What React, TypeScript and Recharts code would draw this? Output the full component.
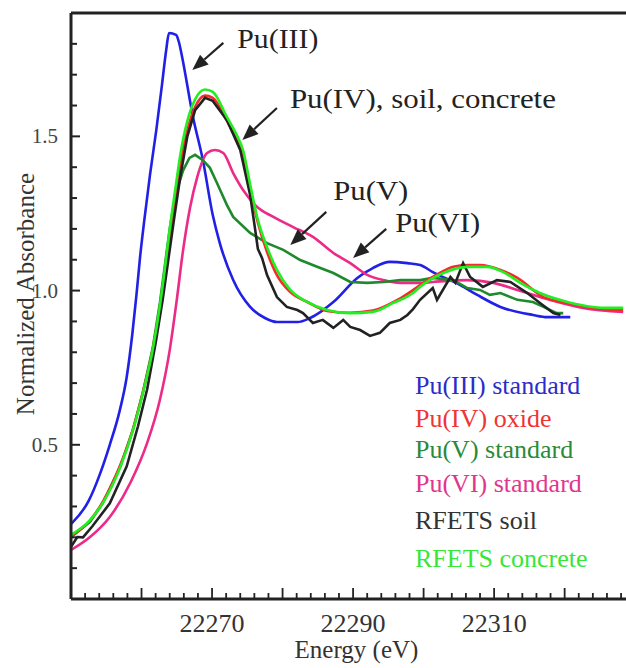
import { LineChart, Line, XAxis, YAxis, ReferenceLine, Legend } from "recharts";

// Pu L3-edge XANES spectra: [energy eV, normalized absorbance]
const PU3: [number, number][] = [
  [22250.0, 0.243], [22252.5, 0.318], [22254.1, 0.405], [22255.5, 0.5], [22256.9, 0.61],
  [22257.9, 0.72], [22258.7, 0.86], [22259.3, 0.99], [22259.8, 1.11], [22260.4, 1.229],
  [22261.2, 1.375], [22262.1, 1.521], [22262.9, 1.667], [22263.5, 1.78], [22263.9, 1.835],
  [22264.9, 1.829], [22265.3, 1.806], [22265.7, 1.764], [22267.3, 1.563], [22268.7, 1.423],
  [22270.1, 1.245], [22271.1, 1.154], [22273.0, 1.034], [22275.4, 0.947], [22277.5, 0.911],
  [22279.2, 0.898], [22282.1, 0.898], [22283.9, 0.911], [22287.2, 0.963], [22290.6, 1.041],
  [22292.8, 1.073], [22295.2, 1.093], [22297.7, 1.089], [22299.5, 1.083], [22301.3, 1.06],
  [22305.2, 1.018], [22307.6, 0.986], [22310.9, 0.947], [22315.5, 0.921], [22317.5, 0.914],
  [22320.8, 0.914],
];

const PU4: [number, number][] = [
  [22250.0, 0.205], [22252.7, 0.255], [22254.5, 0.315], [22257.0, 0.435], [22258.8, 0.552],
  [22260.2, 0.672], [22261.6, 0.81], [22262.6, 0.945], [22263.3, 1.06], [22264.0, 1.185],
  [22264.8, 1.31], [22265.5, 1.41], [22266.5, 1.52], [22267.6, 1.595], [22269.0, 1.632],
  [22270.1, 1.625], [22272.1, 1.55], [22273.7, 1.48], [22274.4, 1.44], [22275.4, 1.33],
  [22276.5, 1.22], [22277.8, 1.125], [22279.2, 1.05], [22281.1, 0.995], [22283.5, 0.963],
  [22286.3, 0.934], [22289.6, 0.928], [22292.8, 0.935], [22296.7, 0.975], [22301.3, 1.044],
  [22304.2, 1.077], [22306.2, 1.083], [22308.0, 1.083], [22310.9, 1.067], [22313.3, 1.041],
  [22317.0, 0.979], [22320.4, 0.96], [22324.0, 0.944], [22328.3, 0.937],
];

const PU5: [number, number][] = [
  [22250.0, 0.2], [22252.7, 0.25], [22254.5, 0.31], [22257.0, 0.43], [22258.8, 0.55],
  [22260.2, 0.67], [22261.6, 0.815], [22262.6, 0.96], [22263.3, 1.08], [22264.0, 1.2],
  [22264.8, 1.31], [22265.9, 1.39], [22266.8, 1.43], [22267.6, 1.44], [22268.7, 1.423],
  [22269.7, 1.398], [22270.7, 1.349], [22272.1, 1.278], [22273.0, 1.239], [22275.4, 1.187],
  [22277.8, 1.154], [22280.1, 1.132], [22282.5, 1.099], [22284.9, 1.077], [22287.2, 1.057],
  [22289.6, 1.028], [22292.0, 1.025], [22294.3, 1.028], [22296.7, 1.034], [22299.5, 1.034],
  [22301.3, 1.041], [22304.2, 1.034], [22306.2, 1.008], [22308.0, 1.002], [22309.4, 0.986],
  [22310.9, 0.992], [22313.3, 0.97], [22315.5, 0.963], [22317.0, 0.947], [22318.9, 0.927],
  [22319.8, 0.927],
];

const PU6: [number, number][] = [
  [22250.0, 0.159], [22252.7, 0.201], [22255.5, 0.266], [22258.4, 0.376], [22260.8, 0.506],
  [22262.6, 0.645], [22264.0, 0.807], [22265.0, 0.97], [22265.9, 1.132], [22266.9, 1.271],
  [22267.9, 1.368], [22269.3, 1.446], [22270.4, 1.456], [22271.6, 1.446], [22273.0, 1.381],
  [22274.4, 1.326], [22276.4, 1.271], [22278.7, 1.239], [22281.5, 1.206], [22284.3, 1.174],
  [22287.2, 1.122], [22289.6, 1.089], [22292.0, 1.051], [22294.3, 1.034], [22296.7, 1.025],
  [22299.5, 1.025], [22301.3, 1.028], [22306.2, 1.034], [22309.9, 1.025], [22313.3, 1.002],
  [22317.9, 0.97], [22322.6, 0.944], [22328.3, 0.931],
];

const SOIL: [number, number][] = [
  [22250.0, 0.169], [22250.9, 0.201], [22251.7, 0.2], [22253.0, 0.235], [22255.5, 0.31],
  [22257.9, 0.43], [22259.5, 0.56], [22260.8, 0.68], [22262.0, 0.83], [22263.0, 0.97],
  [22263.8, 1.1], [22264.6, 1.23], [22265.5, 1.37], [22266.5, 1.5], [22267.6, 1.585],
  [22269.0, 1.625], [22270.1, 1.615], [22272.1, 1.553], [22274.0, 1.456], [22275.4, 1.31],
  [22276.1, 1.2], [22276.5, 1.135], [22277.1, 1.105], [22277.8, 1.05], [22279.2, 0.979],
  [22280.6, 0.947], [22282.1, 0.937], [22282.9, 0.927], [22284.3, 0.895], [22285.7, 0.905],
  [22287.2, 0.879], [22288.6, 0.905], [22289.6, 0.882], [22291.0, 0.872], [22292.4, 0.853],
  [22293.8, 0.863], [22295.2, 0.895], [22296.7, 0.905], [22297.7, 0.921], [22298.5, 0.94],
  [22299.5, 0.97], [22301.3, 1.008], [22301.9, 0.97], [22303.8, 1.044], [22304.5, 1.025],
  [22305.6, 1.089], [22306.6, 1.044], [22308.4, 1.012], [22310.4, 1.034], [22312.3, 1.028],
  [22314.7, 0.992], [22316.5, 0.96], [22318.4, 0.927], [22319.4, 0.921],
];

const CONCRETE: [number, number][] = [
  [22250.0, 0.208], [22252.7, 0.256], [22254.5, 0.311], [22257.0, 0.428], [22258.8, 0.548],
  [22260.2, 0.668], [22261.6, 0.81], [22262.6, 0.95], [22263.3, 1.07], [22264.0, 1.2],
  [22264.8, 1.33], [22265.5, 1.44], [22266.5, 1.55], [22267.6, 1.62], [22269.0, 1.652],
  [22270.1, 1.644], [22272.1, 1.563], [22273.7, 1.495], [22274.4, 1.455], [22275.4, 1.345],
  [22276.5, 1.229], [22277.8, 1.141], [22279.2, 1.067], [22281.1, 1.002], [22283.5, 0.963],
  [22286.3, 0.937], [22289.6, 0.927], [22292.8, 0.931], [22295.7, 0.96], [22298.5, 0.992],
  [22299.5, 1.012], [22302.8, 1.057], [22306.2, 1.077], [22309.0, 1.077], [22311.3, 1.06],
  [22313.7, 1.025], [22316.5, 0.992], [22320.4, 0.963], [22324.0, 0.947], [22326.0, 0.944],
  [22328.3, 0.944],
];

const X_DOMAIN: [number, number] = [22250, 22328.7];
const Y_DOMAIN: [number, number] = [0, 1.9];
const X_LABELS = [22270, 22290, 22310];
const Y_LABELS = [0.5, 1.0, 1.5];
const X_TICKS = Array.from({ length: 39 }, (_, i) => 22252 + 2 * i);
const Y_TICKS = Array.from({ length: 18 }, (_, i) => (i + 1) / 10);

// legend order
const SERIES = [
  { key: "pu3", name: "Pu(III) standard", pts: PU3, stroke: "#2020e6", text: "#2c2cc8", type: "monotone" },
  { key: "pu4", name: "Pu(IV) oxide", pts: PU4, stroke: "#f52a2a", text: "#ee3535", type: "monotone" },
  { key: "pu5", name: "Pu(V) standard", pts: PU5, stroke: "#1f8a2c", text: "#2a8a3a", type: "linear" },
  { key: "pu6", name: "Pu(VI) standard", pts: PU6, stroke: "#ec2a88", text: "#e2358c", type: "monotone" },
  { key: "soil", name: "RFETS soil", pts: SOIL, stroke: "#222222", text: "#333333", type: "linear" },
  { key: "conc", name: "RFETS concrete", pts: CONCRETE, stroke: "#22ee22", text: "#38e638", type: "monotone" },
];
const DRAW_ORDER = ["pu3", "pu6", "pu5", "pu4", "soil", "conc"];
const ROW_H = [34, 31, 31, 37, 38, 38];

// arrow annotations in data coords; dx/dy place the text relative to the arrow tail
const NOTES = [
  { text: "Pu(III)", tail: [22271.6, 1.803], head: [22267.2, 1.715], dx: 14, dy: 5, w: 81 },
  { text: "Pu(IV), soil, concrete", tail: [22279.2, 1.592], head: [22274.3, 1.488], dx: 13, dy: 0, w: 266 },
  { text: "Pu(V)", tail: [22286.2, 1.255], head: [22281.1, 1.148], dx: 7, dy: -12, w: 75 },
  { text: "Pu(VI)", tail: [22294.7, 1.2], head: [22290.0, 1.106], dx: 9, dy: 3, w: 85 },
];

const SERIF = "'Liberation Serif', 'Times New Roman', serif";
const INK = "#222";

const XTick = (props: any) => {
  const { x, y, payload } = props;
  const v = payload.value;
  const major = v % 10 === 0;
  return (
    <g>
      <line x1={x} x2={x} y1={y} y2={y - (major ? 11 : 6)} stroke={INK} strokeWidth={1.8} />
      {X_LABELS.includes(v) && (
        <text x={x} y={y + 33} textAnchor="middle" fontFamily={SERIF} fontSize={26} fill="#333">
          {v}
        </text>
      )}
    </g>
  );
};

const YTick = (props: any) => {
  const { x, y, payload } = props;
  const v = Math.round(payload.value * 10) / 10;
  const major = Y_LABELS.includes(v);
  return (
    <g>
      <line x1={x} x2={x + (major ? 9 : 6)} y1={y} y2={y} stroke={INK} strokeWidth={2} />
      {major && (
        <text x={x - 13} y={y + 7} textAnchor="end" fontFamily={SERIF} fontSize={21} fill="#444">
          {v.toFixed(1)}
        </text>
      )}
    </g>
  );
};

const arrowShape = (note: (typeof NOTES)[number]) => (props: any) => {
  const { x1, y1, x2, y2 } = props;
  const ang = Math.atan2(y2 - y1, x2 - x1);
  const len = 16;
  const half = 6.5;
  const bx = x2 - len * Math.cos(ang);
  const by = y2 - len * Math.sin(ang);
  const px = -Math.sin(ang) * half;
  const py = Math.cos(ang) * half;
  return (
    <g>
      <line x1={x1} y1={y1} x2={bx} y2={by} stroke={INK} strokeWidth={2.2} />
      <polygon points={`${x2},${y2} ${bx + px},${by + py} ${bx - px},${by - py}`} fill={INK} />
      <text
        x={x1 + note.dx}
        y={y1 + note.dy}
        fontFamily={SERIF}
        fontSize={27}
        fill={INK}
        textLength={note.w}
        lengthAdjust="spacingAndGlyphs"
      >
        {note.text}
      </text>
    </g>
  );
};

const LegendBox = () => (
  <div style={{ fontFamily: SERIF, fontSize: 26 }}>
    {SERIES.map((s, i) => (
      <div key={s.key} style={{ color: s.text, lineHeight: `${ROW_H[i]}px`, whiteSpace: "nowrap" }}>
        {s.name}
      </div>
    ))}
  </div>
);

export default function App() {
  const byKey = Object.fromEntries(SERIES.map((s) => [s.key, s]));
  return (
    <div style={{ position: "relative", width: 626, height: 668, background: "#fff" }}>
      <style>{"body{margin:0}"}</style>
      <LineChart width={626} height={668} margin={{ top: 13, right: 0, bottom: 0, left: 0 }}>
        <XAxis
          type="number"
          dataKey="e"
          domain={X_DOMAIN}
          allowDataOverflow
          ticks={X_TICKS}
          interval={0}
          tickSize={0}
          tickMargin={0}
          height={69}
          tick={XTick}
          axisLine={{ stroke: INK, strokeWidth: 3 }}
          label={{
            content: ({ viewBox }: any) => (
              <text x={viewBox.x + viewBox.width / 2 + 8} y={viewBox.y + 59} textAnchor="middle" fontFamily={SERIF} fontSize={25} fill="#333">
                Energy (eV)
              </text>
            ),
          }}
        />
        <YAxis
          type="number"
          domain={Y_DOMAIN}
          allowDataOverflow
          ticks={Y_TICKS}
          interval={0}
          tickSize={0}
          tickMargin={0}
          width={71}
          tick={YTick}
          axisLine={{ stroke: INK, strokeWidth: 3 }}
          label={{
            content: ({ viewBox }: any) => {
              const cx = 25;
              const cy = viewBox.y + viewBox.height / 2 - 12;
              return (
                <text x={cx} y={cy} transform={`rotate(-90 ${cx} ${cy})`} textAnchor="middle" dominantBaseline="central" fontFamily={SERIF} fontSize={25} fill="#333">
                  Normalized Absorbance
                </text>
              );
            },
          }}
        />
        <ReferenceLine y={Y_DOMAIN[1]} stroke={INK} strokeWidth={3} ifOverflow="visible" />
        {DRAW_ORDER.map((k) => {
          const s = byKey[k];
          return (
            <Line
              key={s.key}
              name={s.name}
              data={s.pts.map(([e, a]) => ({ e, a }))}
              dataKey="a"
              type={s.type as any}
              stroke={s.stroke}
              strokeWidth={2.6}
              dot={false}
              activeDot={false}
              isAnimationActive={false}
            />
          );
        })}
        {NOTES.map((n) => (
          <ReferenceLine
            key={n.text}
            segment={[
              { x: n.tail[0], y: n.tail[1] },
              { x: n.head[0], y: n.head[1] },
            ]}
            shape={arrowShape(n)}
            ifOverflow="visible"
          />
        ))}
        <Legend
          layout="vertical"
          align="center"
          verticalAlign="middle"
          content={LegendBox}
          wrapperStyle={{ left: 415, top: 369, width: 220, height: "auto" }}
        />
      </LineChart>
    </div>
  );
}
